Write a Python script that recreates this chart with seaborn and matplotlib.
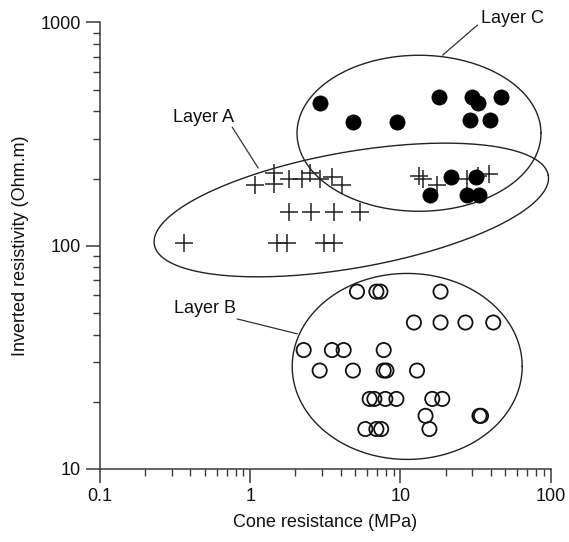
import numpy as np
import pandas as pd
import matplotlib
matplotlib.use("Agg")
import matplotlib.pyplot as plt
import seaborn as sns

# ---------------- data ----------------
layer_a_x = [0.36, 1.51, 1.76, 3.08, 3.59,
             1.82, 2.54, 3.59, 5.41,
             1.08, 1.43, 1.43, 1.80, 2.21, 2.51, 2.93, 3.50, 4.09,
             13.4, 14.2, 17.6, 27.8, 33.0, 38.8]
layer_a_y = [103, 103, 103, 103, 103,
             141, 141, 141, 141,
             187, 211, 190, 200, 200, 211, 200, 203, 187,
             206, 200, 187, 200, 205, 210]

layer_b_x = [5.14, 6.92, 7.36, 18.5,
             12.3, 18.5, 27.1, 41.5,
             2.27, 3.50, 4.19, 7.74,
             2.90, 4.83, 7.74, 8.07, 12.9,
             6.24, 6.71, 7.94, 9.40, 16.3, 19.0,
             14.7, 33.6, 34.4,
             5.84, 6.92, 7.45, 15.6]
layer_b_y = [62.3, 62.3, 62.3, 62.3,
             45.3, 45.3, 45.3, 45.3,
             34.1, 34.1, 34.1, 34.1,
             27.6, 27.6, 27.6, 27.6, 27.6,
             20.6, 20.6, 20.6, 20.6, 20.6, 20.6,
             17.3, 17.3, 17.3,
             15.1, 15.1, 15.1, 15.1]

layer_c_x = [2.9, 4.83, 9.5, 18.0, 30.0, 32.8, 46.9, 29.0, 39.4,
             21.8, 32.1, 15.8, 27.8, 33.3]
layer_c_y = [435, 359, 359, 466, 466, 435, 466, 366, 366,
             204, 204, 169, 169, 169]

x_ticks = [0.1, 1, 10, 100]
x_tick_labels = ["0.1", "1", "10", "100"]
y_ticks = [10, 100, 1000]
y_tick_labels = ["10", "100", "1000"]

layer_names = ["Layer A", "Layer B", "Layer C"]

df = pd.DataFrame({
    "x": layer_a_x + layer_b_x + layer_c_x,
    "y": layer_a_y + layer_b_y + layer_c_y,
    "layer": (["A"] * len(layer_a_x) + ["B"] * len(layer_b_x)
              + ["C"] * len(layer_c_x)),
})

# ---------------- style ----------------
sns.set_style("ticks")
plt.rcParams["font.family"] = ["Liberation Sans", "DejaVu Sans"]
axis_color = "#3a3a3a"

fig = plt.figure(figsize=(5.69, 5.42), dpi=100)
ax = fig.add_axes([0.1757, 0.1347, 0.792, 0.8238])
ax.set_xscale("log")
ax.set_yscale("log")
ax.set_xlim(0.1, 100)
ax.set_ylim(10, 1000)

sns.scatterplot(data=df[df.layer == "A"], x="x", y="y", ax=ax, marker="+",
                s=150, color="#222222", linewidth=1.1, legend=False, zorder=3)
sns.scatterplot(data=df[df.layer == "B"], x="x", y="y", ax=ax, marker="o",
                s=105, facecolor="none", edgecolor="#111111", linewidth=1.3,
                legend=False, zorder=3)
sns.scatterplot(data=df[df.layer == "C"], x="x", y="y", ax=ax, marker="o",
                s=120, color="#000000", edgecolor="#000000", linewidth=0.5,
                legend=False, zorder=4)

# ---------------- ellipses (drawn in display space) ----------------
def draw_ellipse(cx, cy, a_px, b_px, angle_deg):
    c = ax.transData.transform((cx, cy))
    t = np.linspace(0, 2 * np.pi, 400)
    th = np.deg2rad(angle_deg)
    u = a_px * np.cos(t)
    v = b_px * np.sin(t)
    X = c[0] + u * np.cos(th) - v * np.sin(th)
    Y = c[1] + u * np.sin(th) + v * np.cos(th)
    pts = ax.transData.inverted().transform(np.column_stack([X, Y]))
    ax.plot(pts[:, 0], pts[:, 1], color="#222222", lw=1.0, zorder=2)

draw_ellipse(4.71, 144.6, 200, 58, 10)   # Layer A
draw_ellipse(11.1, 28.8, 115, 93, 0)     # Layer B
draw_ellipse(13.3, 319, 122, 78, 0)      # Layer C

# ---------------- labels with leader lines ----------------
label_pos = [(0.307, 377), (0.311, 52.1), (34.2, 1047)]
leader_lines = [((0.759, 340), (1.13, 223)),
                ((0.819, 47.0), (2.06, 40.3)),
                ((32.6, 974), (19.1, 714))]
for name, (tx, ty), (p0, p1) in zip(layer_names, label_pos, leader_lines):
    ax.text(tx, ty, name, fontsize=13, ha="left", va="center",
            color="#111111", clip_on=False)
    ax.plot([p0[0], p1[0]], [p0[1], p1[1]], color="#333333", lw=0.9,
            clip_on=False)

# ---------------- axes ----------------
sns.despine(ax=ax)
for side in ["left", "bottom"]:
    ax.spines[side].set_color(axis_color)
    ax.spines[side].set_linewidth(1.1)

ax.set_xticks(x_ticks)
ax.set_xticklabels(x_tick_labels)
ax.set_yticks(y_ticks)
ax.set_yticklabels(y_tick_labels)
ax.tick_params(which="major", length=10, width=1.1, color=axis_color,
               labelsize=13, labelcolor="#111111", pad=4)
ax.tick_params(which="minor", length=5, width=1.0, color=axis_color)

ax.set_xlabel("Cone resistance (MPa)", fontsize=13, color="#111111",
              labelpad=6)
ax.set_ylabel("Inverted resistivity (Ohm.m)", fontsize=13, color="#111111",
              labelpad=8)

fig.savefig("out.png", dpi=100)
